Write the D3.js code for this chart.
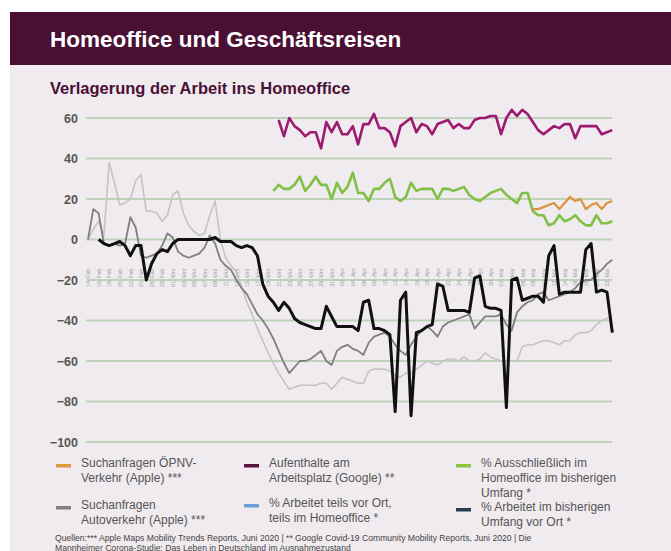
<!DOCTYPE html>
<html><head><meta charset="utf-8">
<script src="https://cdn.jsdelivr.net/npm/d3@7"></script>
<style>
html,body{margin:0;padding:0;background:#fff;}
svg{display:block;font-family:"Liberation Sans",Arial,sans-serif;}
</style></head>
<body>
<svg id="chart" width="671" height="551"></svg>
<script>
// ---------- DATA ----------
const startDate = new Date(2020, 1, 14);   // 14. Feb 2020 = day 0
const endDate = new Date(2020, 4, 23);     // last day index 99
const yTicks = [60, 40, 20, 0, -20, -40, -60, -80, -100];
const monthsDe = ["Jan","Feb","Mrz","Apr","Mai","Jun","Jul","Aug","Sep","Okt","Nov","Dez"];

// light grey line (day 0..99)
const greyLightStart = 0;
const greyLight = [0,5,9,2,38,28,17,18,20,29,32,14,14,13,9,12,22,24,13,7,
  4,2,3,12,19,0,-9,-13,-16,-23,-31,-37,-44,-50,-56,-61,-66,-70,-74,-73,
  -72,-72,-72,-72,-71,-71,-74,-71,-68,-69,-70,-71,-71,-65,-64,-64,-64,-65,-67,-68,
  -66,-66,-64,-62,-60,-61,-62,-60,-59,-59,-60,-58,-60,-60,-59,-56,-58,-59,-60,-60,
  -60,-60,-53,-52,-52,-51,-50,-50,-51,-52,-50,-50,-47,-46,-46,-45,-42,-40,-39,-38];

// Suchanfragen Autoverkehr (Apple) – medium grey (day 0..99)
const autoStart = 0;
const autoVerkehr = [0,15,13,-2,-3,-2,-3,-2,11,6,-8,-9,-8,-7,-3,3,1,-6,-8,-9,
  -8,-7,-4,2,-2,-10,-13,-15,-20,-24,-27,-32,-37,-40,-44,-49,-55,-61,-66,-63,
  -60,-60,-59,-57,-55,-60,-62,-55,-53,-52,-54,-55,-57,-51,-48,-47,-46,-48,-52,-55,
  -57,-52,-48,-45,-43,-45,-48,-43,-41,-40,-39,-38,-37,-44,-41,-38,-38,-38,-37,-42,
  -45,-36,-33,-31,-30,-27,-26,-30,-29,-28,-27,-26,-24,-21,-20,-20,-17,-15,-12,-10];

// black line (day 2..99)
const blackStart = 2;
const blackLine = [0,-2,-3,-2,-1,-3,-8,-3,-3,-20,-12,-7,-5,-6,-2,0,0,0,
  0,0,0,0,1,-1,-1,-1,-3,-4,-3,-4,-8,-22,-28,-31,-35,-31,-34,-39,
  -41,-42,-43,-44,-44,-33,-38,-43,-43,-43,-43,-45,-31,-30,-44,-44,-45,-47,-85,-30,
  -26,-87,-46,-45,-43,-42,-22,-23,-35,-35,-35,-35,-36,-19,-18,-33,-34,-34,-35,-83,
  -20,-19,-30,-29,-28,-28,-31,-8,-3,-27,-26,-26,-26,-26,-5,-2,-26,-25,-26,-46];

// Aufenthalte am Arbeitsplatz (Google) (day 36..99)
const workStart = 36;
const workplace = [59,51,60,56,54,51,53,53,45,58,53,58,52,52,56,47,57,57,62,55,
  55,53,46,56,58,60,53,57,56,52,57,58,59,55,57,55,55,59,60,60,
  61,61,52,60,64,61,64,62,58,54,52,54,56,55,57,57,50,56,56,56,
  56,52,53,54];

// % Ausschließlich im Homeoffice (day 35..99)
const homeStart = 35;
const homeOnly = [24,27,25,25,27,31,24,27,31,27,27,20,28,23,26,33,23,23,19,25,
  25,28,30,21,19,21,28,24,25,25,25,20,25,25,24,25,26,22,20,19,
  21,23,24,25,22,20,18,23,23,14,12,12,7,8,12,9,10,12,9,7,
  7,12,8,8,9];

// Suchanfragen ÖPNV-Verkehr (Apple) (day 84..99)
const oepnvStart = 84;
const oepnv = [15,15,16,17,18,15,18,21,19,20,15,17,18,15,18,19];

// legend
const legendNames = [
  ["Suchanfragen ÖPNV-", "Verkehr (Apple) ***"],
  ["Aufenthalte am", "Arbeitsplatz (Google) **"],
  ["% Ausschließlich im", "Homeoffice im bisherigen", "Umfang *"],
  ["Suchanfragen", "Autoverkehr (Apple) ***"],
  ["% Arbeitet teils vor Ort,", "teils im Homeoffice *"],
  ["% Arbeitet im bisherigen", "Umfang vor Ort *"]
];
const legendColors = ["#e0993f", "#5a1240", "#8cc640", "#808080", "#6d9fd6", "#2d3d4e"];

const titleText = "Homeoffice und Geschäftsreisen";
const subtitleText = "Verlagerung der Arbeit ins Homeoffice";
const sourceLines = [
  "Quellen:*** Apple Maps Mobility Trends Reports, Juni 2020 | ** Google Covid-19 Community Mobility Reports, Juni 2020 | Die",
  "Mannheimer Corona-Studie: Das Leben in Deutschland im Ausnahmezustand"
];

// ---------- DRAW ----------
const svg = d3.select("#chart");
svg.append("rect").attr("x", 10).attr("y", 12).attr("width", 661).attr("height", 539).attr("fill", "#f0ebef");
svg.append("rect").attr("x", 10).attr("y", 12).attr("width", 661).attr("height", 53).attr("fill", "#4a1034");
svg.append("text").attr("x", 50).attr("y", 47).attr("fill", "#fff")
  .attr("font-size", 22.5).attr("font-weight", "bold").text(titleText);
svg.append("text").attr("x", 50).attr("y", 94).attr("fill", "#4a1034")
  .attr("font-size", 16.5).attr("font-weight", "bold").text(subtitleText);

const x = d3.scaleTime().domain([startDate, new Date(2020, 4, 22)]).range([88, 607]);
const y = d3.scaleLinear().domain([-100, 60]).range([442, 118]);
const dayDate = i => d3.timeDay.offset(startDate, i);

// grid lines
const g = svg.append("g");
g.selectAll("line.grid").data(yTicks).join("line")
  .attr("x1", 86).attr("x2", 612)
  .attr("y1", d => y(d)).attr("y2", d => y(d))
  .attr("stroke", "#bfd3ba").attr("stroke-width", 1.8);

// y axis labels
const yAxis = d3.axisLeft(y).tickValues(yTicks).tickSize(0).tickPadding(0);
const ya = svg.append("g").attr("transform", "translate(78,0)").call(yAxis);
ya.select(".domain").remove();
ya.selectAll("text").attr("font-size", 12.5).attr("font-weight", "bold").attr("fill", "#555")
  .attr("font-family", "Liberation Sans, Arial, sans-serif");

// x axis labels (every second day)
const loc = d3.timeFormatLocale({dateTime:"%A, %e. %B %Y",date:"%d.%m.%Y",time:"%H:%M:%S",
  periods:["AM","PM"],days:["Sonntag","Montag","Dienstag","Mittwoch","Donnerstag","Freitag","Samstag"],
  shortDays:["So","Mo","Di","Mi","Do","Fr","Sa"],
  months:["Januar","Februar","März","April","Mai","Juni","Juli","August","September","Oktober","November","Dezember"],
  shortMonths: monthsDe});
const fmt = loc.format("%d. %b");
const xTicks = d3.timeDay.range(startDate, endDate, 2);
const xAxis = d3.axisBottom(x).tickValues(xTicks).tickFormat(fmt).tickSize(0).tickPadding(0);
const xa = svg.append("g").attr("transform", `translate(0,${y(0)})`).call(xAxis);
xa.select(".domain").remove();
xa.selectAll("text")
  .attr("font-size", 5.5).attr("fill", "#9a9a9a")
  .attr("font-family", "Liberation Sans, Arial, sans-serif")
  .attr("text-anchor", "end").attr("dy", "0.32em")
  .attr("transform", "translate(0,5) rotate(-90)")
  .attr("x", -24).attr("y", 0);

// lines
const mk = (arr, start) => arr.map((v, i) => ({date: dayDate(start + i), v}));
const line = d3.line().x(d => x(d.date)).y(d => y(d.v)).curve(d3.curveLinear);
const series = [
  {data: mk(greyLight, greyLightStart), color: "#c4c4c4", w: 1.6},
  {data: mk(autoVerkehr, autoStart), color: "#7f7f7f", w: 1.8},
  {data: mk(homeOnly, homeStart), color: "#80c044", w: 2.6},
  {data: mk(workplace, workStart), color: "#9c1a70", w: 2.6},
  {data: mk(oepnv, oepnvStart), color: "#dc943c", w: 2.2},
  {data: mk(blackLine, blackStart), color: "#111", w: 3}
];
svg.append("g").selectAll("path").data(series).join("path")
  .attr("d", s => line(s.data)).attr("fill", "none")
  .attr("stroke", s => s.color).attr("stroke-width", s => s.w)
  .attr("stroke-linejoin", "round");

// legend
const legPos = [[56, 466], [244, 466], [456, 466], [56, 508], [244, 506], [456, 510]];
const lg = svg.append("g");
legendNames.forEach((lines, i) => {
  const [lx, ly] = legPos[i];
  lg.append("rect").attr("x", lx).attr("y", ly - 2).attr("width", 15).attr("height", 3.5)
    .attr("fill", legendColors[i]);
  const t = lg.append("text").attr("x", lx + 25).attr("y", ly).attr("font-size", 12).attr("fill", "#555");
  lines.forEach((s, j) => t.append("tspan").attr("x", lx + 25).attr("y", ly + 1 + j * 15).text(s));
});

// source
svg.append("g").selectAll("text").data(sourceLines).join("text")
  .attr("x", 55).attr("y", (d, i) => 541 + i * 9.5)
  .attr("font-size", 8.6).attr("fill", "#444").text(d => d);
</script>
</body></html>
